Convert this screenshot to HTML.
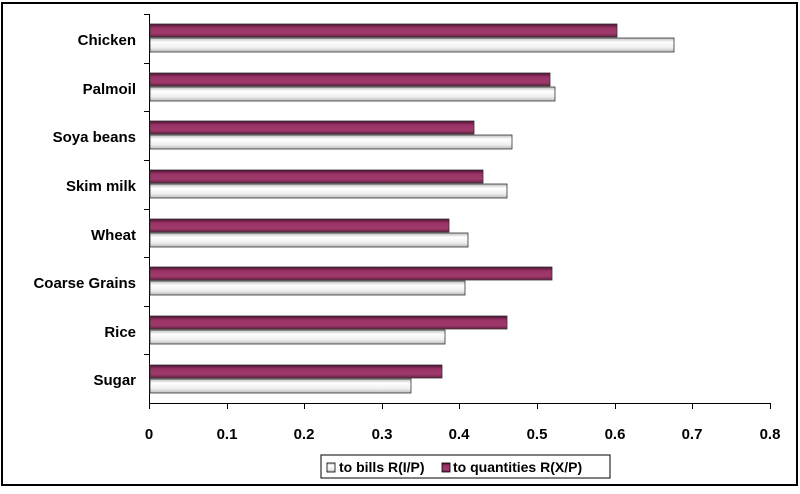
<!DOCTYPE html>
<html><head><style>body{margin:0;background:#fff}</style></head><body>
<svg width="800" height="489" xmlns="http://www.w3.org/2000/svg" font-family="Liberation Sans, sans-serif" font-weight="bold">
<defs>
<linearGradient id="w" x1="0" y1="0" x2="0" y2="1"><stop offset="0" stop-color="#bbb"/><stop offset="0.3" stop-color="#fff"/><stop offset="0.7" stop-color="#eee"/><stop offset="1" stop-color="#bbb"/></linearGradient>
<linearGradient id="m" x1="0" y1="0" x2="0" y2="1"><stop offset="0" stop-color="#4a1030"/><stop offset="0.3" stop-color="#993366"/><stop offset="0.7" stop-color="#a03a6c"/><stop offset="1" stop-color="#6a2046"/></linearGradient>
</defs>
<rect x="2" y="3" width="795" height="482" fill="#fff" stroke="#000" stroke-width="2"/>
<g stroke="#000" stroke-width="1">
<line x1="149.5" y1="14" x2="149.5" y2="404"/>
<line x1="149" y1="403.5" x2="771" y2="403.5"/>
<line x1="144" y1="14.5" x2="149" y2="14.5"/><line x1="144" y1="63.5" x2="149" y2="63.5"/><line x1="144" y1="111.5" x2="149" y2="111.5"/><line x1="144" y1="160.5" x2="149" y2="160.5"/><line x1="144" y1="209.5" x2="149" y2="209.5"/><line x1="144" y1="257.5" x2="149" y2="257.5"/><line x1="144" y1="306.5" x2="149" y2="306.5"/><line x1="144" y1="354.5" x2="149" y2="354.5"/>
<line x1="149.5" y1="403" x2="149.5" y2="409"/><line x1="227.5" y1="403" x2="227.5" y2="409"/><line x1="304.5" y1="403" x2="304.5" y2="409"/><line x1="382.5" y1="403" x2="382.5" y2="409"/><line x1="459.5" y1="403" x2="459.5" y2="409"/><line x1="537.5" y1="403" x2="537.5" y2="409"/><line x1="615.5" y1="403" x2="615.5" y2="409"/><line x1="692.5" y1="403" x2="692.5" y2="409"/><line x1="770.5" y1="403" x2="770.5" y2="409"/>
</g>
<g stroke="#333" stroke-width="0.8">
<rect x="150" y="24" width="467" height="13" fill="url(#m)"/><rect x="150" y="38" width="524" height="14" fill="url(#w)"/>
<rect x="150" y="73" width="400" height="13" fill="url(#m)"/><rect x="150" y="87" width="405" height="14" fill="url(#w)"/>
<rect x="150" y="121" width="324" height="13" fill="url(#m)"/><rect x="150" y="135" width="362" height="14" fill="url(#w)"/>
<rect x="150" y="170" width="333" height="13" fill="url(#m)"/><rect x="150" y="184" width="357" height="14" fill="url(#w)"/>
<rect x="150" y="219" width="299" height="13" fill="url(#m)"/><rect x="150" y="233" width="318" height="14" fill="url(#w)"/>
<rect x="150" y="267" width="402" height="13" fill="url(#m)"/><rect x="150" y="281" width="315" height="14" fill="url(#w)"/>
<rect x="150" y="316" width="357" height="13" fill="url(#m)"/><rect x="150" y="330" width="295" height="14" fill="url(#w)"/>
<rect x="150" y="365" width="292" height="13" fill="url(#m)"/><rect x="150" y="379" width="261" height="14" fill="url(#w)"/>
</g>
<g font-size="15" text-anchor="end" fill="#000">
<text x="136" y="45">Chicken</text><text x="136" y="94">Palmoil</text><text x="136" y="142">Soya beans</text><text x="136" y="191">Skim milk</text><text x="136" y="240">Wheat</text><text x="136" y="288">Coarse Grains</text><text x="136" y="337">Rice</text><text x="136" y="385">Sugar</text>
</g>
<g font-size="15" text-anchor="middle" fill="#000">
<text x="149" y="439">0</text><text x="227" y="439">0.1</text><text x="304" y="439">0.2</text><text x="382" y="439">0.3</text><text x="459" y="439">0.4</text><text x="537" y="439">0.5</text><text x="615" y="439">0.6</text><text x="692" y="439">0.7</text><text x="770" y="439">0.8</text>
</g>
<rect x="321" y="455" width="289" height="23" fill="#fff" stroke="#000"/>
<rect x="327" y="463" width="8" height="9" fill="url(#w)" stroke="#000" stroke-width="0.8"/>
<rect x="442" y="463" width="8" height="9" fill="url(#m)" stroke="#000" stroke-width="0.8"/>
<text x="339" y="472" font-size="14">to bills R(I/P)</text>
<text x="453" y="472" font-size="14">to quantities R(X/P)</text>
</svg>
</body></html>
